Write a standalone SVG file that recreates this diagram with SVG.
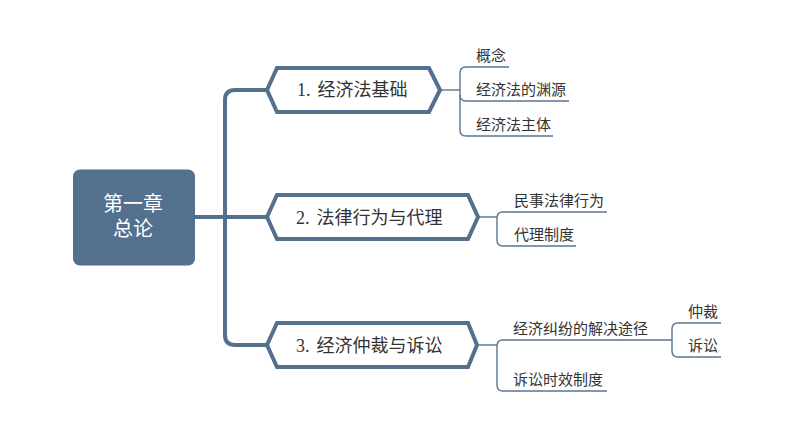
<svg xmlns="http://www.w3.org/2000/svg" width="790" height="447" viewBox="0 0 790 447">
<style>
.bg{fill:#ffffff}
.trunk{fill:none;stroke:#53708f;stroke-width:4;stroke-linejoin:round}
.thin{fill:none;stroke:#5a7594;stroke-width:1.4}
.hex{fill:#ffffff;stroke:#53708f;stroke-width:4;stroke-linejoin:miter}
.root{fill:#53708f}
.rt{font-family:"Liberation Serif","Noto Sans CJK SC",serif;font-size:20px;fill:#ffffff;text-anchor:middle}
.ht{font-family:"Liberation Serif","Noto Sans CJK SC",serif;font-size:18px;fill:#333333}
.ct{font-family:"Liberation Serif","Noto Sans CJK SC",serif;font-size:15px;fill:#333333}
</style>
<rect class="bg" x="0" y="0" width="790" height="447"/>
<g id="connectors">
  <path class="trunk" d="M195,217 H267"/>
  <path class="trunk" d="M267,90 H235 Q225,90 225,100 V335 Q225,345 235,345 H267"/>
  <path class="thin" d="M440,90 H460"/>
  <path class="thin" d="M509,67 H466 Q460,67 460,73 V130 Q460,136 466,136 H553"/>
  <path class="thin" d="M460,95 Q460,101 466,101 H569"/>
  <path class="thin" d="M478,217 H497"/>
  <path class="thin" d="M607,212 H503 Q497,212 497,218 V240 Q497,246 503,246 H576"/>
  <path class="thin" d="M477,345 H497"/>
  <path class="thin" d="M672,340 H503 Q497,340 497,346 V385 Q497,391 503,391 H607"/>
  <path class="thin" d="M721,323 H678 Q672,323 672,329 V351 Q672,357 678,357 H721"/>
</g>
<g id="root">
  <rect class="root" x="73" y="169.5" width="122" height="96" rx="7" ry="7"/>
  <text class="rt" x="133" y="211">第一章</text>
  <text class="rt" x="133" y="236">总论</text>
</g>
<g id="n1">
  <polygon class="hex" points="267,90 277,68 429,68 440,90 429,112 277,112"/>
  <text class="ht" x="297" y="96"><tspan>1.</tspan><tspan dx="7">经济法基础</tspan></text>
</g>
<g id="n2">
  <polygon class="hex" points="267,217 277,195 468,195 478,217 468,239 277,239"/>
  <text class="ht" x="296" y="223.5"><tspan>2.</tspan><tspan dx="7">法律行为与代理</tspan></text>
</g>
<g id="n3">
  <polygon class="hex" points="267,345 277,323 468,323 477,345 468,367 277,367"/>
  <text class="ht" x="296" y="351.5"><tspan>3.</tspan><tspan dx="7">经济仲裁与诉讼</tspan></text>
</g>
<g id="n1-1"><text class="ct" x="476" y="60.5">概念</text></g>
<g id="n1-2"><text class="ct" x="476" y="94.5">经济法的渊源</text></g>
<g id="n1-3"><text class="ct" x="476" y="129.5">经济法主体</text></g>
<g id="n2-1"><text class="ct" x="514" y="205.5">民事法律行为</text></g>
<g id="n2-2"><text class="ct" x="514" y="239.5">代理制度</text></g>
<g id="n3-1"><text class="ct" x="513" y="333.5">经济纠纷的解决途径</text></g>
<g id="n3-2"><text class="ct" x="513" y="384.5">诉讼时效制度</text></g>
<g id="n3-1-1"><text class="ct" x="688" y="316.5">仲裁</text></g>
<g id="n3-1-2"><text class="ct" x="688" y="350.5">诉讼</text></g>
</svg>
